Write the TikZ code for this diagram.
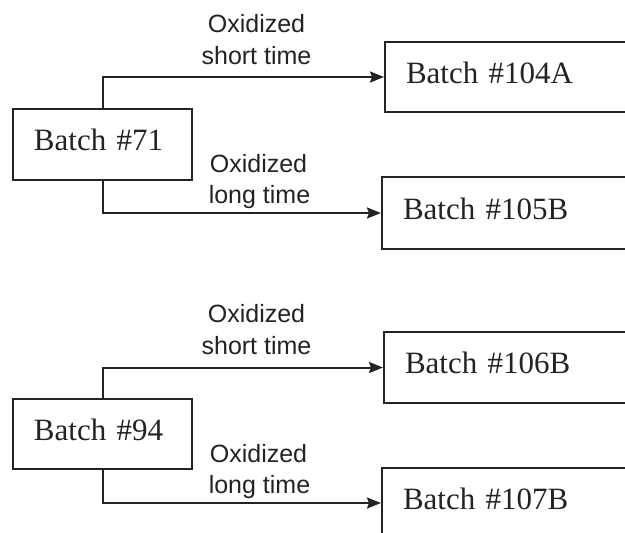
\documentclass[tikz,border=0pt]{standalone}
\usepackage{fontspec}
\setmainfont{Liberation Serif}
\newfontfamily\labfont{Liberation Sans}
\usetikzlibrary{arrows.meta}
\definecolor{ink}{RGB}{34,36,34}
\begin{document}
\begin{tikzpicture}[x=1pt,y=-1pt,
  batchbox/.style={draw=ink, line width=2pt, text=ink, minimum height=71pt,
    inner xsep=21pt, inner ysep=0pt, align=left, text height=21pt, text depth=9pt,
    font=\fontsize{31}{31}\selectfont, anchor=north west},
  lab/.style={text=ink, inner sep=0pt, anchor=base, font=\labfont\fontsize{25}{25}\selectfont},
  conn/.style={draw=ink, line width=2pt, -{Stealth[length=14pt,width=11pt,inset=2pt]}}]
\useasboundingbox (0,0) rectangle (625,533);
\clip (0,0) rectangle (625,533);
\fill[white] (0,0) rectangle (625,533);
% sources
\node[batchbox, text width=137pt] (b71) at (12,108) {Batch \#71};
\node[batchbox, text width=137pt, minimum height=70pt] (b94) at (12,398) {Batch \#94};
% targets
\node[batchbox, text width=230pt, minimum height=70pt] (b104) at (384,41) {Batch \#104A};
\node[batchbox, text width=230pt, minimum height=72pt] (b105) at (381,176) {Batch \#105B};
\node[batchbox, text width=230pt, minimum height=71pt] (b106) at (383,331) {Batch \#106B};
\node[batchbox, text width=230pt, minimum height=70pt] (b107) at (381,467) {Batch \#107B};
% connectors
\draw[conn] (b71.north) |- (b104.west);
\draw[conn] (b71.south) |- (b105.west);
\draw[conn] (b94.north) |- (b106.west);
\draw[conn] (b94.south) |- (b107.west);
% labels
\node[lab] (l1a) at (256.5,32) {Oxidized};
\node[lab] (l1b) at (256.5,64) {short time};
\node[lab] (l2a) at (258.5,172) {Oxidized};
\node[lab] (l2b) at (259.5,203) {long time};
\node[lab] (l3a) at (256.5,322) {Oxidized};
\node[lab] (l3b) at (256.5,354) {short time};
\node[lab] (l4a) at (258.5,462) {Oxidized};
\node[lab] (l4b) at (259.5,493) {long time};
\end{tikzpicture}
\end{document}
